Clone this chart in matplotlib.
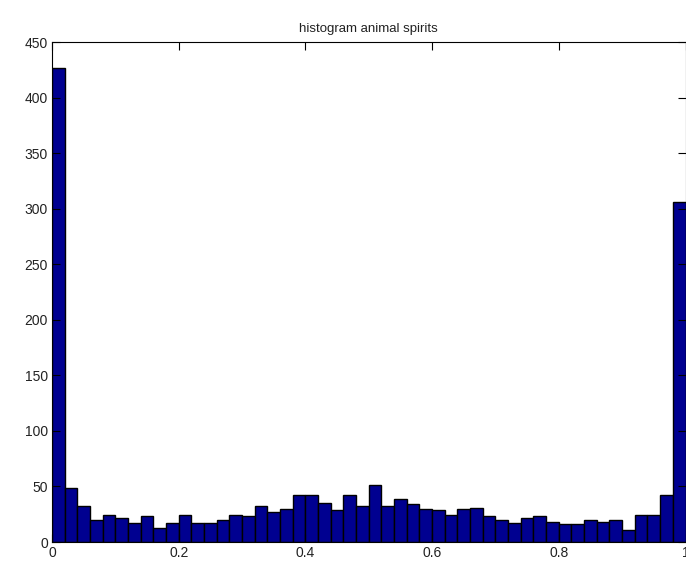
import numpy as np
import matplotlib
matplotlib.use("Agg")
import matplotlib.pyplot as plt

# bin edges of the histogram (50 bins over [0, 1])
bin_lo = 0.0
bin_hi = 1.0
counts = [427, 49, 32, 20, 24, 22, 17, 23, 13, 17,
          24, 17, 17, 20, 24, 23, 32, 27, 30, 42,
          42, 35, 29, 42, 32, 51, 32, 39, 34, 30,
          29, 24, 30, 31, 23, 20, 17, 22, 23, 18,
          16, 16, 20, 18, 20, 11, 24, 24, 42, 306]
x_ticks = [0, 0.2, 0.4, 0.6, 0.8, 1]
x_ticklabels = ['0', '0.2', '0.4', '0.6', '0.8', '1']
y_ticks = list(range(0, 451, 50))

plt.rcParams['font.family'] = ['Liberation Sans', 'DejaVu Sans']

edges = np.linspace(bin_lo, bin_hi, len(counts) + 1)
width = edges[1] - edges[0]

fig = plt.figure(figsize=(6.86, 5.62), dpi=100)
ax = fig.add_axes([52 / 686, 20 / 562, 633.5 / 686, 500 / 562])
ax.bar(edges[:-1], counts, width=width, align='edge',
       color='#000090', edgecolor='black', linewidth=1.0)

ax.set_xlim(0, 1)
ax.set_ylim(0, 450)
ax.set_xticks(x_ticks)
ax.set_xticklabels(x_ticklabels)
ax.set_yticks(y_ticks)
ax.tick_params(direction='in', length=5.5, width=0.8, labelsize=10,
               labelcolor='#222222', top=True, right=True, pad=3)
for s in ax.spines.values():
    s.set_linewidth(0.8)
ax.set_title('histogram animal spirits', fontsize=9.5, pad=7, color='#222222')

fig.savefig('out.png', dpi=100)
